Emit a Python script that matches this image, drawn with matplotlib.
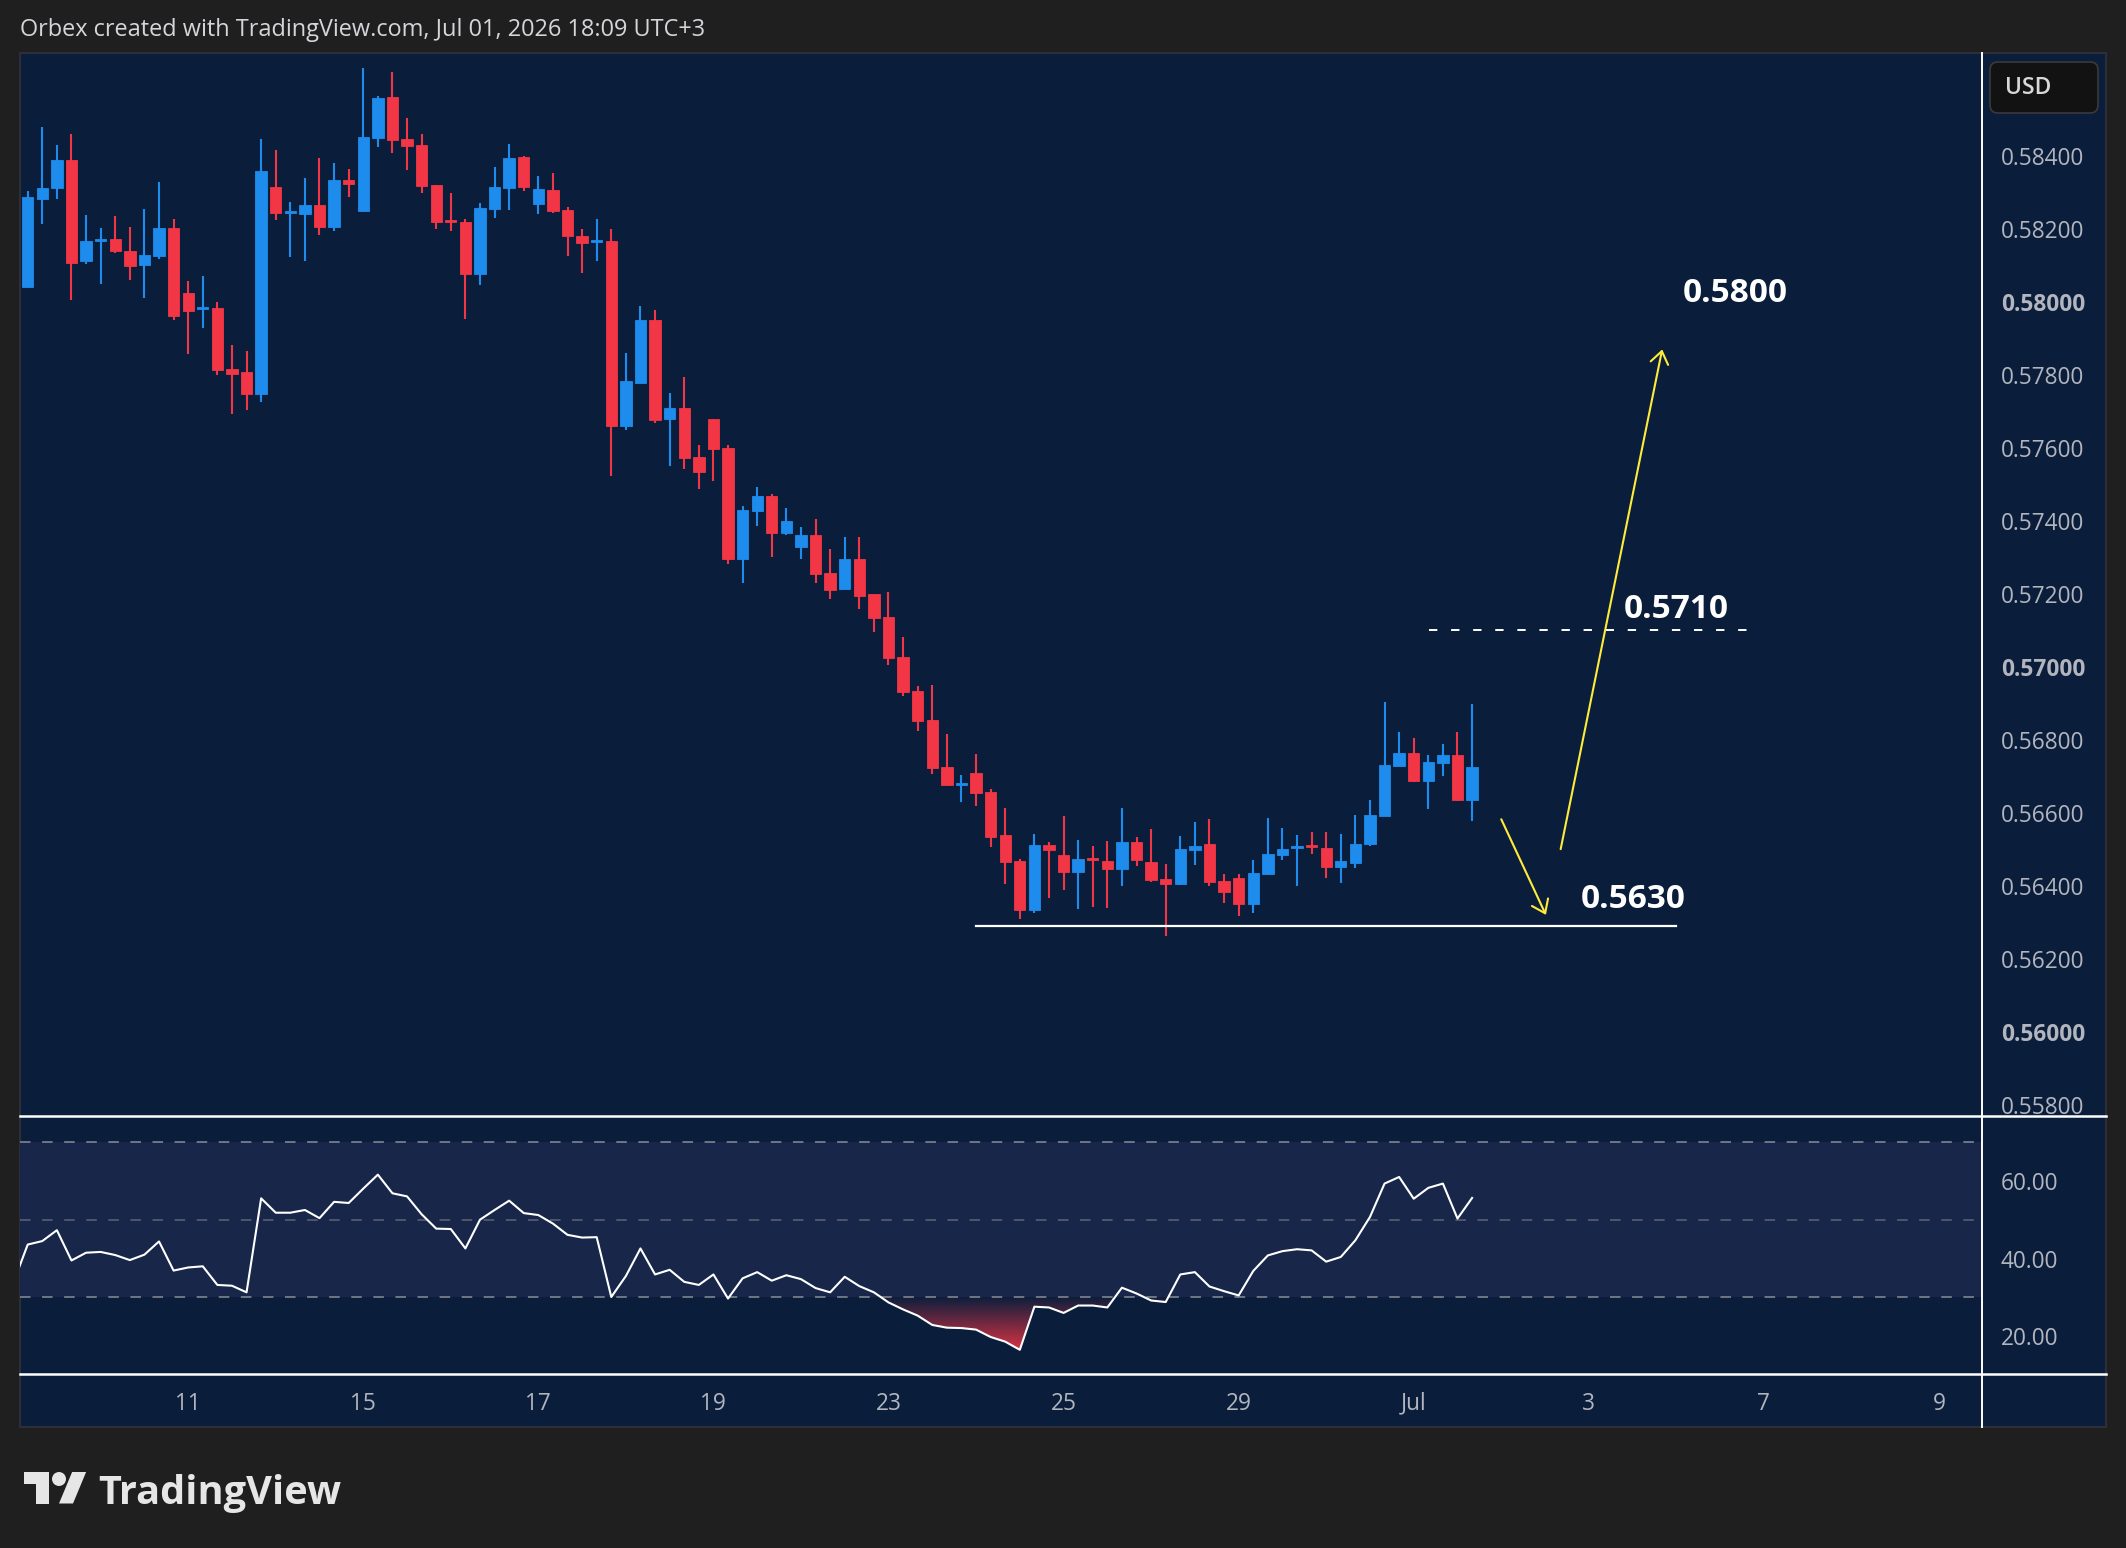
import numpy as np
import matplotlib
matplotlib.use("Agg")
import matplotlib.pyplot as plt
from matplotlib.patches import Rectangle, FancyBboxPatch, Polygon, Circle
from matplotlib.path import Path
from matplotlib.lines import Line2D
from matplotlib.transforms import IdentityTransform

W, H, DPI = 2126, 1548, 100
plt.rcParams['font.family'] = ['Open Sans', 'DejaVu Sans']
plt.rcParams['lines.scale_dashes'] = False

# ---------------- data (4H candles) ----------------
opens = [0.58041, 0.58282, 0.58312, 0.58389, 0.58112, 0.58167, 0.58172, 0.58139, 0.58101, 0.58126,
         0.58202, 0.58024, 0.57981, 0.57983, 0.57816, 0.57808, 0.57748, 0.58315, 0.58244, 0.58241,
         0.58265, 0.58205, 0.58334, 0.58249, 0.58449, 0.58561, 0.58446, 0.58430, 0.58320, 0.58224,
         0.58219, 0.58076, 0.58255, 0.58312, 0.58397, 0.58268, 0.58307, 0.58252, 0.58181, 0.58164,
         0.58167, 0.57660, 0.57778, 0.57950, 0.57679, 0.57709, 0.57575, 0.57679, 0.57600, 0.57296,
         0.57427, 0.57468, 0.57367, 0.57329, 0.57361, 0.57257, 0.57214, 0.57296, 0.57200, 0.57137,
         0.57027, 0.56934, 0.56855, 0.56726, 0.56677, 0.56709, 0.56658, 0.56540, 0.56469, 0.56334,
         0.56512, 0.56485, 0.56438, 0.56477, 0.56469, 0.56447, 0.56521, 0.56466, 0.56420, 0.56406,
         0.56499, 0.56516, 0.56414, 0.56422, 0.56351, 0.56434, 0.56486, 0.56505, 0.56513, 0.56505,
         0.56453, 0.56463, 0.56516, 0.56592, 0.56729, 0.56765, 0.56688, 0.56738, 0.56759, 0.56636]
highs = [0.58304, 0.58479, 0.58430, 0.58460, 0.58238, 0.58202, 0.58235, 0.58205, 0.58255, 0.58328,
         0.58227, 0.58057, 0.58071, 0.57999, 0.57882, 0.57866, 0.58446, 0.58416, 0.58274, 0.58339,
         0.58394, 0.58380, 0.58364, 0.58641, 0.58564, 0.58630, 0.58504, 0.58460, 0.58320, 0.58298,
         0.58227, 0.58271, 0.58370, 0.58433, 0.58400, 0.58345, 0.58353, 0.58260, 0.58200, 0.58227,
         0.58200, 0.57860, 0.57989, 0.57978, 0.57750, 0.57794, 0.57608, 0.57679, 0.57608, 0.57441,
         0.57493, 0.57474, 0.57435, 0.57383, 0.57405, 0.57323, 0.57356, 0.57356, 0.57200, 0.57205,
         0.57082, 0.56948, 0.56951, 0.56816, 0.56704, 0.56762, 0.56666, 0.56614, 0.56474, 0.56543,
         0.56521, 0.56592, 0.56526, 0.56510, 0.56523, 0.56614, 0.56534, 0.56557, 0.56461, 0.56538,
         0.56576, 0.56584, 0.56434, 0.56434, 0.56472, 0.56587, 0.56559, 0.56540, 0.56548, 0.56548,
         0.56543, 0.56595, 0.56636, 0.56905, 0.56822, 0.56806, 0.56759, 0.56790, 0.56822, 0.56899]
lows = [0.58041, 0.58214, 0.58282, 0.58005, 0.58104, 0.58049, 0.58134, 0.58060, 0.58011, 0.58118,
        0.57950, 0.57857, 0.57929, 0.57800, 0.57693, 0.57704, 0.57726, 0.58224, 0.58123, 0.58112,
        0.58183, 0.58194, 0.58287, 0.58249, 0.58424, 0.58408, 0.58361, 0.58298, 0.58200, 0.58194,
        0.57953, 0.58046, 0.58230, 0.58252, 0.58304, 0.58241, 0.58244, 0.58126, 0.58079, 0.58112,
        0.57523, 0.57649, 0.57778, 0.57668, 0.57550, 0.57542, 0.57487, 0.57509, 0.57282, 0.57230,
        0.57386, 0.57301, 0.57361, 0.57296, 0.57230, 0.57186, 0.57211, 0.57159, 0.57096, 0.57005,
        0.56920, 0.56825, 0.56707, 0.56677, 0.56630, 0.56619, 0.56507, 0.56406, 0.56310, 0.56326,
        0.56367, 0.56389, 0.56337, 0.56343, 0.56340, 0.56400, 0.56455, 0.56412, 0.56264, 0.56403,
        0.56458, 0.56401, 0.56354, 0.56318, 0.56327, 0.56431, 0.56472, 0.56401, 0.56488, 0.56422,
        0.56409, 0.56450, 0.56510, 0.56592, 0.56729, 0.56685, 0.56612, 0.56702, 0.56633, 0.56579]
closes = [0.58287, 0.58312, 0.58389, 0.58107, 0.58167, 0.58172, 0.58139, 0.58098, 0.58129, 0.58202,
          0.57961, 0.57975, 0.57986, 0.57814, 0.57803, 0.57748, 0.58359, 0.58244, 0.58249, 0.58265,
          0.58205, 0.58334, 0.58323, 0.58452, 0.58559, 0.58443, 0.58427, 0.58317, 0.58219, 0.58219,
          0.58076, 0.58257, 0.58315, 0.58394, 0.58315, 0.58309, 0.58249, 0.58181, 0.58161, 0.58170,
          0.57660, 0.57783, 0.57950, 0.57676, 0.57709, 0.57572, 0.57534, 0.57597, 0.57296, 0.57430,
          0.57468, 0.57367, 0.57400, 0.57361, 0.57255, 0.57211, 0.57296, 0.57194, 0.57134, 0.57025,
          0.56931, 0.56852, 0.56723, 0.56677, 0.56682, 0.56655, 0.56534, 0.56466, 0.56334, 0.56512,
          0.56499, 0.56438, 0.56474, 0.56472, 0.56447, 0.56521, 0.56471, 0.56417, 0.56406, 0.56502,
          0.56510, 0.56412, 0.56384, 0.56351, 0.56436, 0.56488, 0.56502, 0.56510, 0.56507, 0.56453,
          0.56469, 0.56516, 0.56595, 0.56732, 0.56765, 0.56688, 0.56740, 0.56759, 0.56636, 0.56727]

# RSI(14); first value belongs to the candle just left of the visible range
rsi = [33.6,
       43.6, 44.5, 47.3, 39.5, 41.5, 41.7, 40.9, 39.6, 41.0, 44.4,
       36.9, 37.7, 38.0, 33.2, 33.0, 31.3, 55.5, 51.8, 51.8, 52.5,
       50.4, 54.6, 54.3, 58.0, 61.6, 56.8, 56.0, 51.4, 47.7, 47.6,
       42.6, 50.0, 52.5, 54.9, 51.7, 51.2, 49.0, 46.1, 45.4, 45.5,
       30.1, 35.5, 42.6, 35.9, 37.1, 34.0, 33.2, 35.9, 29.7, 34.9,
       36.5, 34.3, 35.7, 34.7, 32.4, 31.3, 35.3, 32.9, 31.3, 28.7,
       26.9, 25.3, 22.9, 22.2, 22.1, 21.7, 19.8, 18.6, 16.5, 27.6,
       27.4, 26.0, 27.9, 27.9, 27.4, 32.5, 31.0, 29.2, 28.8, 35.9,
       36.5, 32.8, 31.6, 30.5, 36.8, 40.8, 41.9, 42.4, 42.1, 39.2,
       40.4, 44.7, 50.7, 59.3, 61.0, 55.4, 58.2, 59.3, 50.3, 55.6]

date_labels = ["11", "15", "17", "19", "23", "25", "29", "Jul", "3", "7", "9"]
date_label_bars = [11, 23, 35, 47, 59, 71, 83, 95, 107, 119, 131]
price_ticks = [0.558, 0.560, 0.562, 0.564, 0.566, 0.568, 0.570, 0.572, 0.574, 0.576, 0.578, 0.580, 0.582, 0.584]
rsi_ticks = [20, 40, 60]

support_level = 0.5629
resistance_level = 0.5710
level_texts = ["0.5800", "0.5710", "0.5630"]
level_text_pos = [(113.45, 0.5800), (109.4, 0.57134), (106.45, 0.5634)]
arrow_down = ((101.0, 0.56583), (104.06, 0.56321))
arrow_up = ((105.07, 0.56501), (112.03, 0.57870))

# ---------------- styling ----------------
FIG_BG = "#1f1f1f"
PANEL_BG = "#0a1e3c"
BAND = "#172649"
BLUE = "#1e8cec"
RED = "#f23645"
YELLOW = "#ffeb3b"
AXIS_TXT = "#b2b5be"

fig = plt.figure(figsize=(W / DPI, H / DPI), dpi=DPI, facecolor=FIG_BG)

def fx(px):
    return px / W

def fy(py):
    return 1 - py / H

# whole chart panel background (behind the axes)
fig.patches.append(Rectangle((fx(20), fy(1427)), fx(2106) - fx(20), fy(53) - fy(1427),
                             transform=fig.transFigure, facecolor=PANEL_BG,
                             edgecolor="#2c2f38", lw=1.5, zorder=-5))

XL = (-0.528, 133.95)
ax = fig.add_axes([fx(20), fy(1116), fx(1982) - fx(20), fy(53) - fy(1116)])
axr = fig.add_axes([fx(20), fy(1373.5), fx(1982) - fx(20), fy(1116) - fy(1373.5)], sharex=ax)
for a in (ax, axr):
    a.set_facecolor("none")
    for s in a.spines.values():
        s.set_visible(False)

# ---------------- candles ----------------
o = np.array(opens); h = np.array(highs); l = np.array(lows); c = np.array(closes)
x = np.arange(len(o))
cols = np.where(c >= o, BLUE, RED)
ax.vlines(x, l, h, colors=cols, lw=1.5, zorder=2)
ax.bar(x, np.abs(c - o), 0.78, np.minimum(o, c), color=cols, edgecolor=cols, linewidth=0.6, zorder=3)

ax.set_xlim(*XL)
ax.set_ylim(0.557701, 0.586819)

ax.yaxis.tick_right()
ax.set_yticks(price_ticks)
ax.set_yticklabels([f"{t:.5f}" for t in price_ticks])
ax.tick_params(axis='y', length=0, pad=13.5, labelcolor=AXIS_TXT, labelsize=16.3)
for t, lab in zip(price_ticks, ax.get_yticklabels()):
    if abs(t * 100 - round(t * 100)) < 1e-6:
        lab.set_fontweight("bold")
ax.tick_params(axis='x', length=0, labelbottom=False)

# annotation levels
ax.plot([65, 113], [support_level] * 2, color="white", lw=1.6, zorder=4)
ax.plot([96.05, 117.9], [resistance_level] * 2, color="white", lw=1.4,
        linestyle=(0, (6, 9.9)), zorder=4)
for txt, (tx, ty) in zip(level_texts, level_text_pos):
    ax.text(tx, ty, txt, color="white", fontsize=24, fontweight="bold",
            ha="left", va="baseline", zorder=5)
for (p0, p1) in (arrow_down, arrow_up):
    ax.annotate("", xy=p1, xytext=p0,
                arrowprops=dict(arrowstyle="->,head_length=0.55,head_width=0.4",
                                color=YELLOW, lw=1.5, mutation_scale=16,
                                shrinkA=0, shrinkB=0), zorder=5)

# ---------------- RSI ----------------
rx = np.arange(-1, len(o))
rv = np.array(rsi)
axr.axhspan(30, 70, color=BAND, zorder=0, lw=0)
for lvl, colr in ((70, "#8a8d96"), (50, "#5f6473"), (30, "#8a8d96")):
    axr.axhline(lvl, color=colr, lw=1.1, linestyle=(0, (7.6, 8.3)), zorder=1)

fb = axr.fill_between(rx, rv, 30, where=rv < 30, interpolate=True,
                      facecolor="none", edgecolor="none")
paths = fb.get_paths()
if paths:
    comp = Path.make_compound_path(*paths)
    grad = np.zeros((256, 1, 4))
    rgb = matplotlib.colors.to_rgb(RED)
    grad[..., 0], grad[..., 1], grad[..., 2] = rgb
    yy = np.linspace(0, 30, 256)
    grad[:, 0, 3] = np.clip((30 - yy) / 13.0 * 0.85, 0, 0.9)
    im = axr.imshow(grad, extent=[-1, len(o), 0, 30], origin="lower",
                    aspect="auto", zorder=1.5, interpolation="bilinear")
    im.set_clip_path(comp, transform=axr.transData)

axr.plot(rx, rv, color="white", lw=1.5, zorder=3)
axr.set_xlim(*XL)
axr.set_ylim(10.4, 76.7)
axr.yaxis.tick_right()
axr.set_yticks(rsi_ticks)
axr.set_yticklabels([f"{t:.2f}" for t in rsi_ticks])
axr.tick_params(axis='y', length=0, pad=13.5, labelcolor=AXIS_TXT, labelsize=16.3)
axr.set_xticks(date_label_bars)
axr.set_xticklabels(date_labels)
axr.tick_params(axis='x', length=0, pad=13, labelcolor=AXIS_TXT, labelsize=16.3)

# ---------------- separators ----------------
fig.add_artist(Line2D([fx(20), fx(2106)], [fy(1116), fy(1116)], color="white", lw=1.8,
                      transform=fig.transFigure))
fig.add_artist(Line2D([fx(20), fx(2106)], [fy(1373.5), fy(1373.5)], color="white", lw=1.8,
                      transform=fig.transFigure))
fig.add_artist(Line2D([fx(1982), fx(1982)], [fy(53), fy(1427)], color="white", lw=1.4,
                      transform=fig.transFigure))

# ---------------- header, currency box, logo ----------------
fig.text(fx(20), fy(30), "Orbex created with TradingView.com, Jul 01, 2026 18:09 UTC+3",
         color="#d5d6da", fontsize=16.9, ha="left", va="center")

idt = IdentityTransform()
box = FancyBboxPatch((1990, H - 113), 108, 51, boxstyle="round,pad=0,rounding_size=8",
                     facecolor="#121212", edgecolor="#3a3a3a", lw=1.2, transform=idt)
fig.patches.append(box)
fig.text(fx(2028.5), fy(88), "USD", color="#d8d8d8", fontsize=16.5, ha="center", va="center",
         fontweight="semibold")

s = 1.75
def lp(px, py):
    return (24 + s * px, H - (1472 + s * (py - 4)))
LOGO = "#e6e6e6"
fig.patches.append(Polygon([lp(14, 22), lp(7, 22), lp(7, 11), lp(0, 11), lp(0, 4), lp(14, 4)],
                           closed=True, facecolor=LOGO, edgecolor="none", transform=idt))
fig.patches.append(Polygon([lp(28, 22), lp(20, 22), lp(27.5, 4), lp(35.5, 4)],
                           closed=True, facecolor=LOGO, edgecolor="none", transform=idt))
cx, cy = lp(20, 8)
fig.patches.append(Circle((cx, cy), 4 * s, facecolor=LOGO, edgecolor="none", transform=idt))
fig.text(fx(98), fy(1503.7), "TradingView", color=LOGO, fontsize=28.6, fontweight="bold",
         ha="left", va="baseline")

fig.savefig("out.png", dpi=DPI, facecolor=FIG_BG)
